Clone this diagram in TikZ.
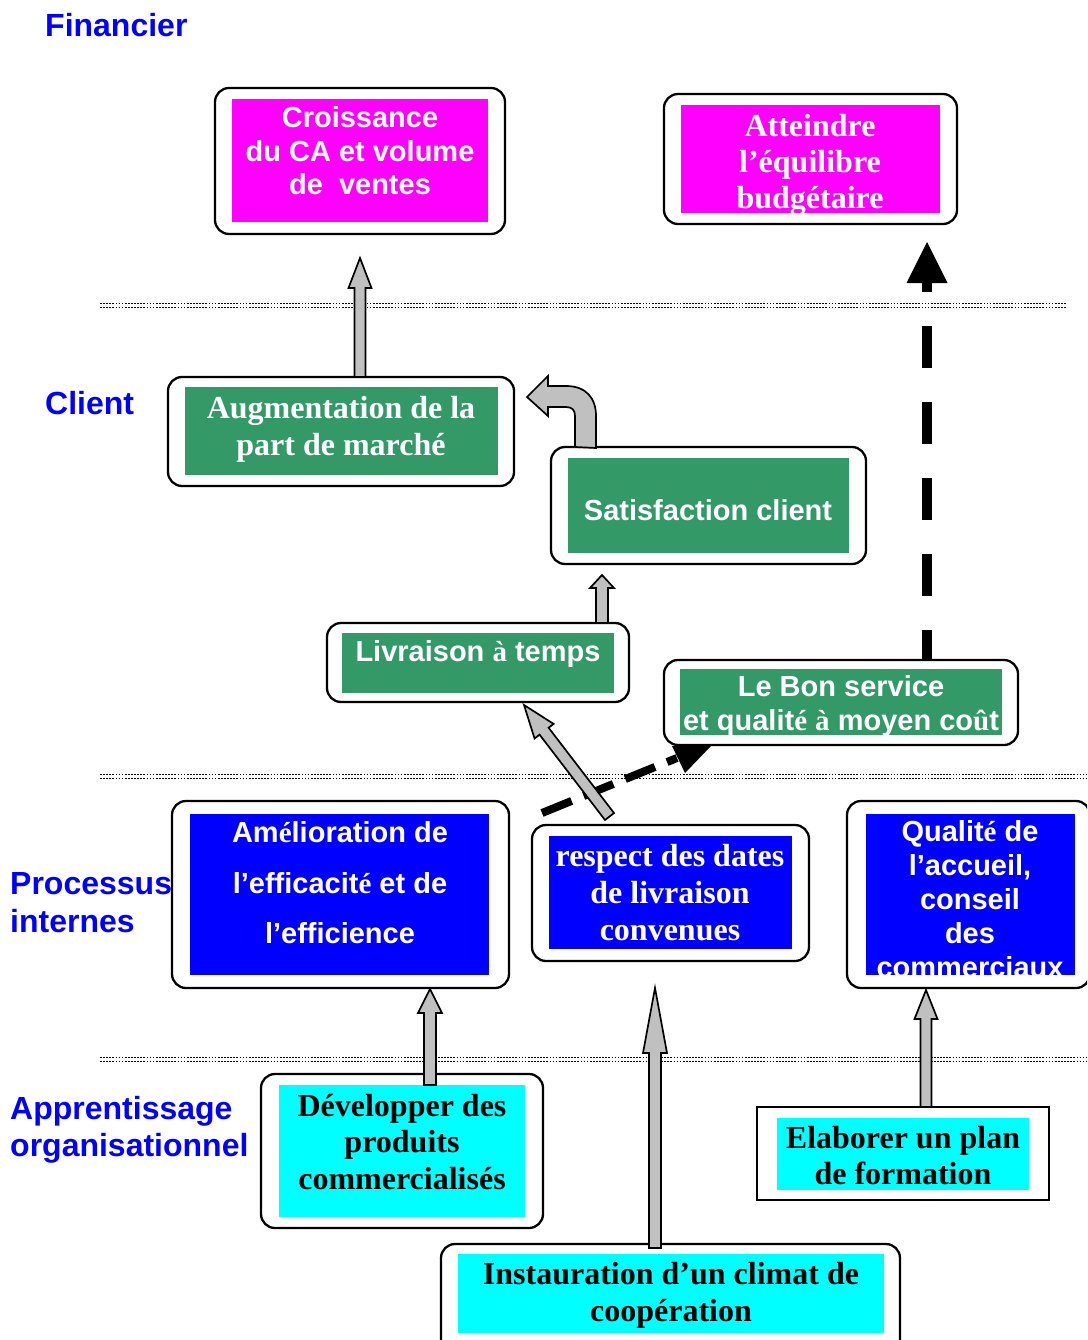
\documentclass[tikz,border=0pt]{standalone}
\usepackage{fontspec}
\setmainfont{Liberation Serif}
\setsansfont{Liberation Sans}
\usetikzlibrary{calc}
\pgfdeclarelayer{back}
\pgfsetlayers{back,main}

\definecolor{mag}{HTML}{FF00FF}
\definecolor{grn}{HTML}{339966}
\definecolor{blu}{HTML}{0000FF}
\definecolor{cya}{HTML}{00FFFF}
\definecolor{arrowgray}{HTML}{C0C0C0}

% serif glyph inside a sans line
\newcommand\sr[1]{{\rmfamily\bfseries #1}}

% rectangle node from its corners: name, style, x1, y1, x2, y2
\newcommand\mkbox[6]{%
  \node[#2, minimum width={#5-#3}, minimum height={#6-#4}] (#1)
    at ({(#3+#5)/2},{(#4+#6)/2}) {};}

% outlined grey block arrow: tail, tip, shaft half width, head half width, head length
\newcommand\grayarrow[5]{%
  \draw[grayarrow] let \p1=(#1), \p2=(#2),
      \n1={atan2(\y2-\y1,\x2-\x1)},
      \n2={veclen(\x2-\x1,\y2-\y1)-#5}
    in ($(\p1)+({\n1+90}:#3pt)$)
    -- ($(\p1)+(\n1:{\n2*1pt})+({\n1+90}:#3pt)$)
    -- ($(\p1)+(\n1:{\n2*1pt})+({\n1+90}:#4pt)$)
    -- (\p2)
    -- ($(\p1)+(\n1:{\n2*1pt})+({\n1-90}:#4pt)$)
    -- ($(\p1)+(\n1:{\n2*1pt})+({\n1-90}:#3pt)$)
    -- ($(\p1)+({\n1-90}:#3pt)$) -- cycle;}

% multi-line texts are anchored on the baseline of their last line
\tikzset{
  frame/.style={draw=black, line width=2.3pt, fill=white, rounded corners=14pt,
    inner sep=0pt, outer sep=0pt},
  sqframe/.style={draw=black, line width=2.3pt, fill=white, inner sep=0pt, outer sep=0pt},
  panel/.style={draw=none, inner sep=0pt, outer sep=0pt},
  sanstext/.style={font=\sffamily\bfseries\fontsize{29}{#1}\selectfont,
    align=center, inner sep=0pt, anchor=base},
  sanstext/.default=34,
  seriftext/.style={font=\rmfamily\bfseries\fontsize{32}{#1}\selectfont,
    align=center, inner sep=0pt, anchor=base},
  seriftext/.default=37,
  layerlabel/.style={font=\sffamily\bfseries\fontsize{32}{#1}\selectfont,
    text=blu, inner sep=0pt, anchor=base west, align=left},
  layerlabel/.default=38,
  separator/.style={line width=1.8pt, dash pattern=on 1.7pt off 1.4pt},
  grayarrow/.style={fill=arrowgray, draw=black, line width=1.7pt, line join=miter},
  heavydash/.style={draw=black, line width=10pt},
}

\begin{document}
\begin{tikzpicture}[x=1pt,y=-1pt]
\useasboundingbox (0,0) rectangle (1087,1340);
\clip (0,0) rectangle (1087,1340);

% perspective labels
\node[layerlabel] (fin) at (45,37) {Financier};
\node[layerlabel] (cli) at (45,414) {Client};
\node[layerlabel] (proc) at (10,932) {Processus\\internes};
\node[layerlabel=37] (app) at (10,1156) {Apprentissage\\organisationnel};

% ---------- boxes ----------
\mkbox{crois}{frame}{215}{88}{505}{234}
\mkbox{crois-in}{panel,fill=mag}{232}{99}{488}{222}
\node[sanstext=33.5, text=white] (crois-t) at (360,195) {Croissance\\du CA et volume\\de\ \ ventes};

\mkbox{att}{frame}{664}{94}{957}{224}
\mkbox{att-in}{panel,fill=mag}{681}{105}{940}{213}
\node[seriftext=36, text=white] (att-t) at (810,208.5) {Atteindre\\l’équilibre\\budgétaire};

\mkbox{aug}{frame}{168}{377}{514}{486}
\mkbox{aug-in}{panel,fill=grn}{185}{387}{498}{475}
\node[seriftext, text=white] (aug-t) at (341,455) {Augmentation de la\\part de marché};

\mkbox{sat}{frame}{551}{447}{866}{564}
\mkbox{sat-in}{panel,fill=grn}{568}{458}{849}{553}
\node[sanstext, text=white] (sat-t) at (708,520) {Satisfaction client};

\mkbox{liv}{frame}{327}{623}{629}{702}
\mkbox{liv-in}{panel,fill=grn}{342}{633}{614}{693}
\node[sanstext, text=white] (liv-t) at (478,661.5) {Livraison \sr{à} temps};

\mkbox{bon}{frame}{664}{660}{1018}{745}
\mkbox{bon-in}{panel,fill=grn}{680}{669}{1002}{735}
\node[sanstext=34, text=white] (bon-t) at (841,730.5) {Le Bon service\\et qualit\sr{é} \sr{à} moyen co\sr{û}t};

\mkbox{ame}{frame}{172}{801}{509}{988}
\mkbox{ame-in}{panel,fill=blu}{190}{814}{489}{975}
\node[sanstext=50.5, text=white] (ame-t) at (340,943.5) {Am\sr{é}lioration de\\l’efficacit\sr{é} et de\\l’efficience};

\mkbox{resp}{frame}{532}{825}{809}{961}
\mkbox{resp-in}{panel,fill=blu}{549}{836}{792}{949}
\node[seriftext, text=white] (resp-t) at (670,940.5) {respect des dates\\de livraison\\convenues};

\mkbox{qual}{frame}{847}{801}{1090}{988}
\mkbox{qual-in}{panel,fill=blu}{866}{814}{1075}{975}
\begin{scope}
  \clip (qual-in.north west) rectangle (qual-in.south east);
  \node[sanstext=34, text=white] (qual-t) at (970,977) {Qualit\sr{é} de\\l’accueil,\\conseil\\des\\commerciaux};
\end{scope}

\mkbox{dev}{frame}{261}{1074}{543}{1228}
\mkbox{dev-in}{panel,fill=cya}{279}{1085}{525}{1217}
\node[seriftext=36.5, text=black] (dev-t) at (402,1189) {Développer des\\produits\\commercialisés};

\mkbox{elab}{sqframe}{757}{1107}{1049}{1200}
\mkbox{elab-in}{panel,fill=cya}{777}{1118}{1029}{1190}
\node[seriftext=36, text=black] (elab-t) at (903,1184) {Elaborer un plan\\de formation};

\mkbox{inst}{frame}{441}{1244}{900}{1362}
\mkbox{inst-in}{panel,fill=cya}{458}{1254}{884}{1333}
\node[seriftext, text=black] (inst-t) at (671,1321) {Instauration d’un climat de\\coopération};

% ---------- background: separators and dashed links ----------
\begin{pgfonlayer}{back}
  \foreach \yy/\xe in {303.5/1066, 307.5/1066, 774.5/1087, 778.5/1087,
                       1057.5/1087, 1061.5/1087}
    \draw[separator] (100,\yy) -- (\xe,\yy);

  % dashed link from the service box up to the budget box
  \coordinate (dv-tail) at ($(bon.north west)+(263,0)$);
  \coordinate (dv-tip) at ($(att.south west)+(263,18)$);
  \draw[heavydash, dash pattern=on 42pt off 34pt, dash phase=12pt]
    (dv-tail) -- ($(dv-tip)+(0,41)$);
  \fill[black] ($(dv-tip)+(-20.5,41)$) -- (dv-tip) -- ($(dv-tip)+(20.5,41)$) -- cycle;

  % dashed link from the delivery process to the service box
  \coordinate (ds-tail) at ($(resp.north west)+(10,-12)$);
  \coordinate (ds-head) at ($(bon.south west)+(13,13)$);
  \draw[black, line width=8pt, dash pattern=on 32pt off 13pt] (ds-tail) -- (ds-head);
  \fill[black] ($(bon.south west)+(8,1)$) -- ($(bon.south west)+(47,1)$)
    -- ($(bon.south west)+(21,28)$) -- cycle;
\end{pgfonlayer}

% ---------- grey block arrows ----------
\grayarrow{$(crois.south |- aug.north)$}{$(crois.south)+(0,24)$}{5.5}{11.5}{30}

\draw[grayarrow]
  ($(sat.north west)+(24,0)$) -- ++(0,-31)
  .. controls ++(0,-6) and ++(6,0) .. ++(-9,-9) -- ++(-18,0) -- ++(0,9)
  -- ++(-21,-19) -- ++(21,-21) -- ++(0,10) -- ++(18,0)
  .. controls ++(20,0) and ++(0,-18) .. ++(30,30) -- ++(0,32) -- cycle;

\grayarrow{$(liv.north east)+(-27,0)$}{$(sat.south west)+(51,11)$}{6}{12}{13}
\grayarrow{$(resp.north west)+(77.5,-8.5)$}{$(liv.south west)+(197,3)$}{5.7}{12}{33}
\grayarrow{$(dev-in.north west)+(151,0)$}{$(ame.south west)+(258,1)$}{6}{12}{24}
\grayarrow{$(inst.north west)+(214,4)$}{$(resp.south west)+(123,27)$}{6}{12}{65}
\grayarrow{$(elab.north west)+(169,0)$}{$(qual.south west)+(79,2)$}{5.5}{11.5}{29}
\end{tikzpicture}
\end{document}
